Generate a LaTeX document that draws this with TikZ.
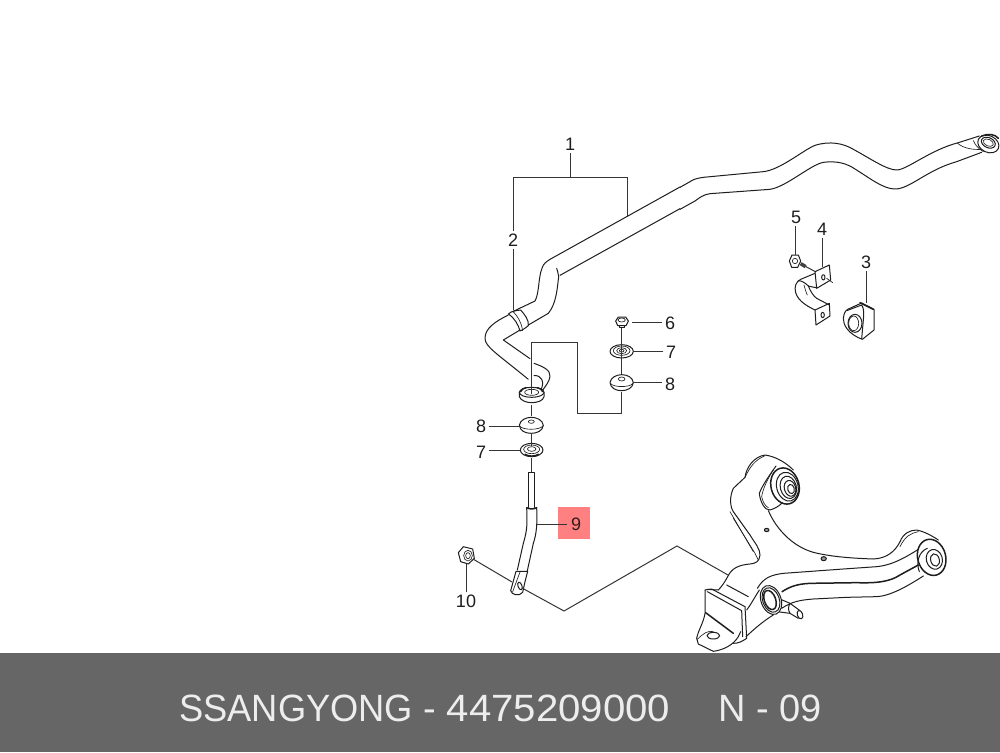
\documentclass[tikz,border=0pt]{standalone}
\usepackage{fontspec}
\setmainfont{Liberation Sans}
\newfontfamily\brandfont[FakeStretch=0.955]{Liberation Sans}
\newfontfamily\digitfont[FakeStretch=1.057]{Liberation Sans}
\definecolor{band}{HTML}{666666}
\definecolor{ink}{HTML}{1E1E1E}
\tikzset{
  part/.style={draw=ink,line width=1pt,line join=round,line cap=round},
  thin part/.style={draw=ink,line width=0.65pt,line join=round,line cap=round},
  heavy/.style={draw=ink,line width=1.5pt,line cap=round},
  leader/.style={draw=ink!90,line width=1pt},
  lab/.style={font=\fontsize{18}{18}\selectfont,text=ink,inner sep=2.5pt},
  zoomA/.style={shift={(480,120)},scale=1/3},
  zoomB/.style={shift={(680,120)},scale=1/3},
  zoomC/.style={shift={(670,440)},scale=1/3},
  zoomD/.style={shift={(440,400)},scale=1/3}
}
\begin{document}
\begin{tikzpicture}[x=1pt,y=-1pt]
\useasboundingbox (0,0) rectangle (1000,752);
\fill[white] (0,0) rectangle (1000,752);

% ---------- stabiliser bar
\begin{scope}[zoomA]
\draw[part] (85,585) .. controls (45,605) and (15,625) .. (15,655)
  .. controls (15,680) and (50,700) .. (145,778);
\draw[part] (120,630) -- (70,660) -- (150,716);
\draw[part] (100,574) -- (165,543) .. controls (178,520) and (175,470) .. (186,445)
  .. controls (190,430) and (200,425) .. (210,418) -- (600,201);
\draw[part] (145,615) -- (205,580) .. controls (230,550) and (232,500) .. (236,470)
  .. controls (234,458) and (232,450) .. (230,445);
\draw[part] (240,466) -- (600,266);
% collar
\draw[part] (85,582) .. controls (95,572) and (110,572) .. (122,570)
  .. controls (135,585) and (147,600) .. (145,617) .. controls (135,625) and (128,630) .. (120,633)
  .. controls (115,615) and (105,595) .. (85,582);
\draw[thin part] (98,574) .. controls (115,590) and (125,610) .. (128,632);
% bar end by the bushing
\draw[part] (162,730) .. controls (190,740) and (212,750) .. (210,770)
  .. controls (208,785) and (195,800) .. (187,812);
\draw[part] (162,767) .. controls (185,765) and (195,785) .. (182,812);
% bushing
\draw[part,fill=white] (118,817) -- (118,830) .. controls (122,842) and (140,848) .. (155,848)
  .. controls (172,848) and (190,842) .. (192,830) -- (192,817);
\draw[part,fill=white] (155,817) ellipse (37 and 15);
\draw[thin part] (155,817) ellipse (21 and 9);
\draw[heavy] (122,815) .. controls (124,808) and (130,805) .. (138,803);
\draw[heavy] (172,803) .. controls (180,805) and (186,808) .. (188,815);
\end{scope}
\begin{scope}[zoomB]
\draw[part] (0,202) -- (30,185) .. controls (40,178) and (50,175) .. (70,172) -- (250,155)
  .. controls (300,150) and (370,90) .. (405,76)
  .. controls (450,62) and (490,70) .. (520,88) .. controls (570,115) and (620,150) .. (650,150)
  .. controls (680,150) and (750,90) .. (835,68) -- (898,48);
\draw[part] (0,268) -- (45,243) .. controls (60,232) and (70,224) .. (90,221) -- (270,208)
  .. controls (320,200) and (390,135) .. (430,127)
  .. controls (470,122) and (500,130) .. (525,147) .. controls (570,175) and (610,207) .. (645,207)
  .. controls (690,207) and (740,150) .. (830,125) -- (905,97);
\draw[thin part] (833,70) .. controls (850,85) and (880,90) .. (905,88);
\draw[thin part] (880,62) .. controls (885,75) and (895,85) .. (910,95);
\draw[part,rotate around={-25:(925,72)}] (925,72) ellipse (33 and 25);
\draw[part,rotate around={-25:(925,68)}] (925,68) ellipse (22 and 15);
\draw[thin part,rotate around={-25:(925,68)}] (925,68) ellipse (16 and 10);
\draw[heavy] (905,48) .. controls (925,40) and (945,42) .. (955,55);

% bolt 5
\draw[part] (328,423) -- (336,405) -- (355,405) -- (362,423) -- (353,442) -- (335,442) -- cycle;
\draw[thin part] (345,423) circle (8);
\draw[line width=3.5pt,draw=ink!85] (362,431) -- (377,440);
\coordinate (bolttip) at (378,440);
\coordinate (clamphole) at (408,456);
\draw[leader] (bolttip) -- (clamphole);
% clamp 4
\draw[part] (405,455) -- (448,435) -- (452,480) -- (410,505) -- cycle;
\draw[part] (430,472) circle (5 and 8);
\draw[thin part] (440,475) -- (458,488);
\draw[part] (405,460) -- (362,478) .. controls (348,485) and (342,500) .. (347,518)
  .. controls (355,545) and (385,560) .. (405,570);
\draw[part] (408,503) .. controls (395,500) and (390,500) .. (385,498) .. controls (375,488) and (365,482) .. (355,482);
\draw[part] (385,498) .. controls (392,515) and (400,528) .. (410,535) -- (448,555);
\draw[thin part] (372,495) .. controls (375,505) and (378,518) .. (382,525);
\draw[part] (405,570) -- (448,550) -- (450,588) -- (408,615) -- cycle;
\draw[part] (428,585) circle (5 and 8);
% bush 3
\draw[part] (490,595) .. controls (492,580) and (495,572) .. (505,567) -- (545,549) -- (582,568)
  -- (582,630) -- (547,658) .. controls (530,652) and (510,640) .. (500,625)
  .. controls (493,615) and (490,605) .. (490,595) -- cycle;
\draw[part] (500,572) -- (545,555) .. controls (552,565) and (552,580) .. (550,600) -- (545,656);
\draw[heavy] (540,548) -- (580,568);
\draw[part] (525,610) ellipse (21 and 27);
\draw[thin part] (521,610) ellipse (15 and 22);
\end{scope}

% ---------- stack of small parts
\begin{scope}[zoomA]
% nut 6
\draw[part] (407,603) -- (415,591) -- (437,591) -- (445,603) -- (438,617) -- (413,617) -- cycle;
\draw[thin part] (425,600) ellipse (11 and 6);
\draw[part] (417,617) -- (417,622) -- (433,622) -- (433,617);
% washer 7
\draw[part] (425,694) ellipse (35 and 20);
\draw[thin part] (425,692) ellipse (25 and 14);
\draw[thin part] (425,692) ellipse (15 and 9);
\draw[thin part] (425,692) ellipse (7 and 4);
% grommet 8
\draw[part] (390,788) .. controls (392,772) and (410,764) .. (425,764)
  .. controls (442,764) and (458,772) .. (460,788) .. controls (458,805) and (440,812) .. (425,812)
  .. controls (408,812) and (392,805) .. (390,788) -- cycle;
\draw[thin part] (391,790) .. controls (400,803) and (450,803) .. (459,790);
\draw[thin part] (425,777) ellipse (10 and 6);
% grommet 8 lower
\draw[part] (118,916) .. controls (120,900) and (138,892) .. (154,892)
  .. controls (170,892) and (188,900) .. (190,916) .. controls (188,933) and (170,940) .. (154,940)
  .. controls (136,940) and (120,933) .. (118,916) -- cycle;
\draw[thin part] (119,918) .. controls (128,931) and (178,931) .. (189,918);
\draw[thin part] (154,905) ellipse (9 and 5);
\end{scope}
\begin{scope}[zoomD]
% washer 7 lower
\draw[part] (275,150) ellipse (34 and 20);
\draw[thin part] (275,148) ellipse (24 and 13);
\draw[thin part] (275,147) ellipse (13 and 7);
\draw[heavy] (255,163) .. controls (265,170) and (285,170) .. (295,163);
% rod and link
\draw[part] (265,218) -- (265,322);
\draw[part] (283,218) -- (283,322);
\draw[thin part] (265,218) -- (283,218);
\draw[heavy] (260,323) .. controls (270,328) and (280,328) .. (290,323);
\draw[part] (260,323) .. controls (262,370) and (262,390) .. (250,430) -- (232,510);
\draw[part] (290,323) .. controls (292,370) and (290,400) .. (280,430) -- (262,512);
\draw[part] (228,514) -- (263,514) -- (255,545) -- (248,577)
  .. controls (238,590) and (215,585) .. (212,572) -- (228,514);
\draw[thin part] (240,516) -- (218,575);
\draw[part,rotate around={20:(240,558)}] (240,558) ellipse (6 and 12);
% nut 10
\draw[part] (55,458) -- (70,440) -- (98,447) -- (103,475) -- (85,492) -- (62,485) -- cycle;
\draw[thin part] (84,467) ellipse (13 and 16);
\draw[thin part] (84,467) ellipse (7 and 9);
\end{scope}

% ---------- control arm
\begin{scope}[zoomC]
% upper outline
\draw[part] (173,410) .. controls (185,385) and (205,375) .. (240,372)
  .. controls (258,370) and (268,365) .. (270,345) .. controls (270,325) and (255,310) .. (240,285)
  -- (190,215) .. controls (180,200) and (178,170) .. (190,145)
  -- (225,112) .. controls (228,85) and (250,50) .. (285,45)
  .. controls (320,50) and (350,70) .. (370,90);
\draw[thin part] (180,215) -- (250,335);
\draw[thin part] (190,235) -- (255,340) -- (265,360);
\draw[thin part] (225,112) .. controls (240,80) and (255,60) .. (285,47);
\draw[part] (318,78) .. controls (295,110) and (275,140) .. (268,160)
  .. controls (270,185) and (285,212) .. (300,210) .. controls (315,205) and (325,200) .. (335,190);
\draw[thin part] (310,90) .. controls (290,120) and (278,150) .. (275,170) .. controls (278,185) and (285,198) .. (295,203);
% upper bush
\draw[heavy,rotate around={15:(345,138)}] (345,138) ellipse (42 and 55);
\draw[part,rotate around={15:(352,140)}] (352,140) ellipse (32 and 44);
\draw[part,rotate around={15:(355,142)}] (355,142) ellipse (24 and 34);
\draw[part,rotate around={15:(360,145)}] (360,145) ellipse (17 and 24);
\draw[part,fill=white,rotate around={15:(363,147)}] (363,147) ellipse (10 and 14);
% inner edge
\draw[part] (295,212) .. controls (320,270) and (370,320) .. (430,337)
  .. controls (490,352) and (560,355) .. (610,357)
  .. controls (650,355) and (675,335) .. (690,305);
\draw[part] (690,305) .. controls (700,280) and (720,270) .. (740,270)
  .. controls (765,275) and (790,290) .. (805,300);
\draw[thin part] (690,320) .. controls (705,290) and (720,280) .. (745,275);
% arm surfaces
\draw[part] (262,445) .. controls (280,415) and (300,405) .. (340,400)
  -- (520,387) -- (620,380) .. controls (670,375) and (710,350) .. (755,322);
\draw[heavy] (336,455) .. controls (360,440) and (380,432) .. (420,430)
  -- (560,428) .. controls (620,430) and (660,425) .. (690,405) -- (745,375);
\draw[part] (335,505) .. controls (365,485) and (390,480) .. (430,477)
  -- (530,472) -- (620,470) .. controls (660,468) and (710,440) .. (760,408);
\draw[part] (230,510) .. controls (245,490) and (255,470) .. (268,450);
\draw[part] (228,590) .. controls (260,560) and (285,540) .. (310,525);
\draw[part] (170,435) -- (235,470);
\draw[part] (112,448) -- (145,450) .. controls (155,440) and (165,425) .. (173,410);
% outer bush
\draw[heavy,fill=white,rotate around={15:(785,352)}] (785,352) ellipse (42 and 55);
\draw[part] (772,325) .. controls (745,335) and (738,370) .. (748,395);
\draw[part,rotate around={15:(793,358)}] (793,358) ellipse (24 and 30);
\draw[part,rotate around={15:(795,360)}] (795,360) ellipse (13 and 19);
% stud
\draw[part] (332,478) -- (360,490) -- (390,512);
\draw[part] (322,515) -- (360,520) -- (385,535);
\draw[part] (360,490) .. controls (354,500) and (354,512) .. (360,520);
\draw[part,fill=white,rotate around={20:(390,524)}] (390,524) ellipse (8 and 13);
% ball joint
\draw[part,fill=white,rotate around={20:(303,480)}] (303,480) ellipse (30 and 45);
\draw[part,rotate around={20:(303,480)}] (303,480) ellipse (25 and 38);
\draw[heavy,rotate around={20:(300,480)}] (300,480) ellipse (17 and 30);
% dots
\draw[part,fill=ink!45] (290,270) circle (7 and 5);
\draw[part,fill=ink!45] (461,356) circle (8 and 6);
% bracket
\draw[part] (105,450) -- (125,447) -- (225,500) -- (230,595) .. controls (215,605) and (205,610) .. (190,610);
\draw[part] (105,450) -- (105,520) .. controls (100,550) and (85,570) .. (80,595)
  -- (85,612) -- (130,634) .. controls (160,630) and (190,615) .. (205,590) -- (212,575);
\draw[part] (112,455) -- (215,512) -- (218,590);
\draw[heavy] (107,518) -- (190,580);
\draw[part] (130,587) ellipse (19 and 10);
\draw[thin part] (82,598) .. controls (100,580) and (115,570) .. (130,575);
\end{scope}

% ---------- labels and leaders
\node[lab] (n1) at (570,144) {1};
\node[lab] (n2) at (513,240) {2};
\node[lab] (n3) at (866,262) {3};
\node[lab] (n4) at (822,229) {4};
\node[lab] (n5) at (796,217) {5};
\node[lab] (n6) at (670,323) {6};
\node[lab] (n7a) at (671,352) {7};
\node[lab] (n8a) at (670,384) {8};
\node[lab] (n8b) at (481,426) {8};
\node[lab] (n7b) at (481,452) {7};
\node[lab] (n10) at (466,601) {10};

\coordinate (barA) at (513,177.5);
\coordinate (barB) at (627,177.5);
\coordinate (barM) at (570,177.5);
\coordinate (barHit) at (627,217);
\coordinate (collar) at (513,310);
\coordinate (p3) at (866,303);
\coordinate (p4) at (822,267);
\coordinate (p5) at (795,255);
\coordinate (p6) at (632,322);
\coordinate (p7a) at (634,351);
\coordinate (p8a) at (634,382);
\coordinate (p8b) at (520,426);
\coordinate (p7b) at (520,450);
\coordinate (p10) at (466,564);
\coordinate (p9) at (537,524);

\draw[leader] (n1) -- (barM);
\draw[leader] (barHit) -- (barB) -- (barA) -- (barA |- n2.north);
\draw[leader] (barA |- n2.south) -- (collar);
\draw[leader] (p3 |- n3.south) -- (p3);
\draw[leader] (p4 |- n4.south) -- (p4);
\draw[leader] (p5 |- n5.south) -- (p5);
\draw[leader] (p6 -| n6.west) -- (p6);
\draw[leader] (p7a -| n7a.west) -- (p7a);
\draw[leader] (p8a -| n8a.west) -- (p8a);
\draw[leader] (p8b -| n8b.east) -- (p8b);
\draw[leader] (p7b -| n7b.east) -- (p7b);
\draw[leader] (p10 |- n10.north) -- (p10);

% axis lines of the exploded view
\coordinate (a1) at (621,328);
\coordinate (a2) at (621,336);
\coordinate (a3) at (621,357);
\coordinate (a4) at (621,374);
\coordinate (a5) at (621,392);
\coordinate (a6) at (621,413.5);
\coordinate (a7) at (577,413.5);
\coordinate (a8) at (577,342);
\coordinate (a9) at (531.5,342);
\coordinate (a10) at (531.5,394);
\coordinate (b1) at (531.5,405);
\coordinate (b2) at (531.5,416);
\coordinate (b3) at (531.5,433);
\coordinate (b4) at (531.5,446);
\coordinate (b5) at (531.5,458);
\coordinate (b6) at (531.5,472);
\coordinate (c1) at (473,559);
\coordinate (c2) at (512,582);
\coordinate (c3) at (522,588);
\coordinate (c4) at (564,611);
\coordinate (c5) at (677,546);
\coordinate (c6) at (728,575);
\draw[leader] (a1) -- (a2) (a2) -- (a3) (a3) -- (a4);
\draw[leader] (a5) -- (a6) -- (a7) -- (a8) -- (a9) -- (a10);
\draw[leader] (b1) -- (b2);
\draw[leader] (b3) -- (b4);
\draw[leader] (b5) -- (b6);
\draw[leader] (c1) -- (c2);
\draw[leader] (c3) -- (c4) -- (c5) -- (c6);

% ---------- highlighted 9
\node[fill=red!50,minimum size=32pt,inner sep=0pt] (box9) at (574,523) {};
\node[lab,text=ink!90!red] (n9) at (576,524) {9};
\coordinate (q9) at (567,524);
\draw[leader] (q9) -- (p9);

% ---------- footer
\fill[band] (0,653) rectangle (1000,752);
\node[font=\fontsize{38}{38}\selectfont,text=white!93!black,inner sep=0pt,anchor=base west] (title) at (179,721) {{\brandfont SSANGYONG} - {\digitfont 4475209000}};
\node[font=\fontsize{38}{38}\selectfont,text=white!93!black,inner sep=0pt,anchor=base west] (code) at (718,721) {N - 09};
\end{tikzpicture}
\end{document}
